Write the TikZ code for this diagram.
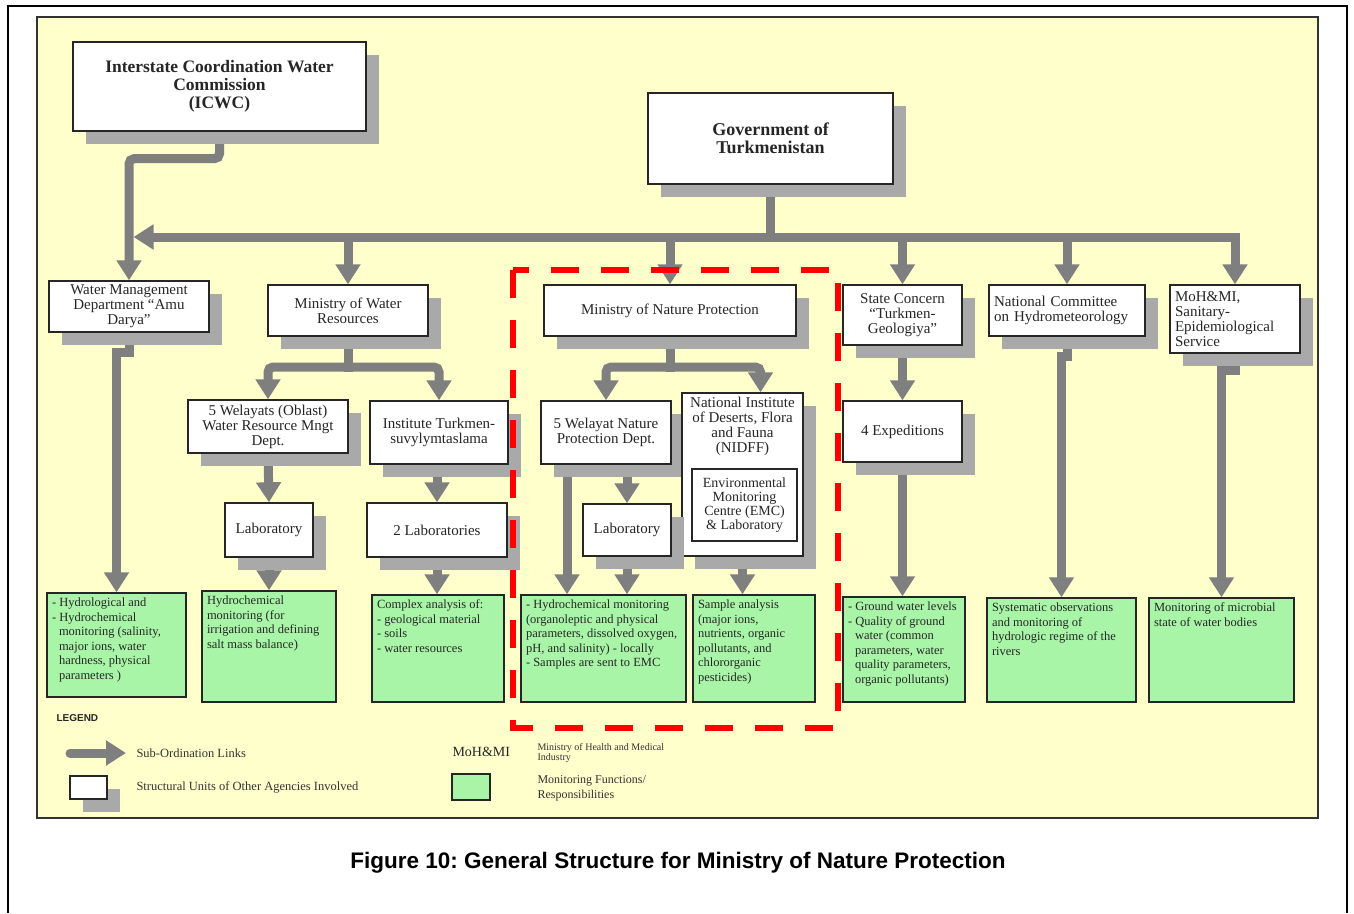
\documentclass[tikz,border=0pt]{standalone}
\usepackage{fontspec}
\setmainfont{Liberation Serif}
\setsansfont{Liberation Sans}
\frenchspacing
\usetikzlibrary{arrows.meta,positioning,calc,shadows}
\definecolor{paper}{HTML}{FFFFCC}
\definecolor{linkgray}{HTML}{7F7F7F}
\definecolor{shade}{HTML}{A9A9A9}
\definecolor{mongreen}{HTML}{A8F5A8}
\definecolor{dashred}{HTML}{FF0000}
\pgfdeclarelayer{paperlayer}
\pgfdeclarelayer{linklayer}
\pgfsetlayers{paperlayer,linklayer,main}
\tikzset{
  unitplain/.style={draw=black!85,line width=1.4pt,fill=white,align=center,inner sep=2pt,
    text=black!85,font=\fontsize{15}{15}\selectfont},
  unit/.style={unitplain,drop shadow={shadow xshift=13pt,shadow yshift=-13pt,fill=shade,opacity=1}},
  mon/.style={draw=black!85,line width=1.4pt,fill=mongreen,inner sep=5pt,text=black!85,
    font=\fontsize{12.5}{14.5}\selectfont},
  link/.style={draw=linkgray,line width=9pt,line cap=rect,rounded corners=5pt},
  sublink/.style={link,-{Triangle[width=24pt,length=20pt]}},
  legtext/.style={anchor=west,text=black!80,font=\fontsize{12.5}{14}\selectfont},
}

\begin{document}
\begin{tikzpicture}[x=1pt,y=-1pt]
  \useasboundingbox (0,0) rectangle (1354,913);
  \begin{pgfonlayer}{paperlayer}
    \draw[line width=2pt] (8,913) -- (8,6) -- (1347,6) -- (1347,913);
    \draw[draw=black!80,line width=2pt,fill=paper] (37,17) rectangle (1318,818);
  \end{pgfonlayer}

  % top level
  \node[unit,minimum width=293pt,minimum height=89pt,font=\bfseries\fontsize{17.5}{18}\selectfont] (icwc) at (219.5,86.5) {Interstate Coordination Water\\Commission\\(ICWC)};
  \node[unit,minimum width=245pt,minimum height=91pt,font=\bfseries\fontsize{18}{18}\selectfont] (gov) at (770.5,138.5) {Government of\\Turkmenistan};

  % agencies
  \node[unit,minimum width=160pt,minimum height=51pt] (wmd) at (129,306.5) {Water Management\\Department “Amu\\Darya”};
  \node[unit,minimum width=160pt,minimum height=51pt] (mowr) at (348,310.5) {Ministry of Water\\Resources};
  \node[unit,minimum width=252pt,minimum height=51pt] (mnp) at (670,310.5) {Ministry of Nature Protection};
  \node[unit,minimum width=119pt,minimum height=60pt] (gc) at (902.5,315) {State Concern\\“Turkmen-\\Geologiya”};
  \node[unit,minimum width=156pt,minimum height=51pt,align=left,text width=146pt] (ncm) at (1067,310.5) {National Committee\\on Hydrometeorology};
  \node[unit,minimum width=130pt,minimum height=68pt,align=left,text width=120pt] (moh) at (1235,319) {MoH\&MI,\\Sanitary-\\Epidemiological\\Service};

  % subunits
  \node[unit,minimum width=160pt,minimum height=53pt] (wel) at (268,426.5) {5 Welayats (Oblast)\\Water Resource Mngt\\Dept.};
  \node[unit,minimum width=138pt,minimum height=63pt] (inst) at (439,432.5) {Institute Turkmen-\\suvylymtaslama};
  \node[unit,minimum width=130pt,minimum height=63pt] (wnp) at (606,432.5) {5 Welayat Nature\\Protection Dept.};
  \node[unit,minimum width=121pt,minimum height=163pt] (nidff) at (742.5,474.5) {\parbox[c][155pt][t]{117pt}{\centering National Institute\\of Deserts, Flora\\and Fauna\\(NIDFF)}};
  \node[unitplain,minimum width=105pt,minimum height=72pt,font=\fontsize{14}{14}\selectfont] (emc) at (744.5,505) {Environmental\\Monitoring\\Centre (EMC)\\\& Laboratory};
  \node[unit,minimum width=119pt,minimum height=61pt] (exp) at (902.5,431.5) {4 Expeditions};
  \node[unit,minimum width=88pt,minimum height=54pt] (lab1) at (269,530) {Laboratory};
  \node[unit,minimum width=140pt,minimum height=54pt] (labs2) at (437,530) {2 Laboratories};
  \node[unit,minimum width=88pt,minimum height=52pt] (lab3) at (627,530) {Laboratory};

  % monitoring functions
  \node[mon] (mon1) at (116.5,645) {\parbox[c][94pt][t]{129pt}{\raggedright - Hydrological and\\- Hydrochemical\\\hspace*{7pt}monitoring (salinity,\\\hspace*{7pt}major ions, water\\\hspace*{7pt}hardness, physical\\\hspace*{7pt}parameters )}};
  \node[mon] (mon2) at (269,646.5) {\parbox[c][101pt][t]{124pt}{\raggedright Hydrochemical\\monitoring (for\\irrigation and defining\\salt mass balance)}};
  \node[mon] (mon3) at (438,648.5) {\parbox[c][97pt][t]{122pt}{\raggedright Complex analysis of:\\- geological material\\- soils\\- water resources}};
  \node[mon] (mon4) at (603.5,648.5) {\parbox[c][97pt][t]{155pt}{\raggedright - Hydrochemical monitoring\\(organoleptic and physical\\parameters, dissolved oxygen,\\pH, and salinity) - locally\\- Samples are sent to EMC}};
  \node[mon] (mon5) at (754,648.5) {\parbox[c][97pt][t]{112pt}{\raggedright Sample analysis\\(major ions,\\nutrients, organic\\pollutants,  and\\chlororganic\\pesticides)}};
  \node[mon] (mon6) at (904,649.5) {\parbox[c][95pt][t]{112pt}{\raggedright - Ground water levels\\- Quality of ground\\\hspace*{7pt}water (common\\\hspace*{7pt}parameters, water\\\hspace*{7pt}quality parameters,\\\hspace*{7pt}organic pollutants)}};
  \node[mon] (mon7) at (1061.5,650) {\parbox[c][94pt][t]{139pt}{\raggedright Systematic observations\\and monitoring of\\hydrologic regime of the\\rivers}};
  \node[mon] (mon8) at (1221.5,650) {\parbox[c][94pt][t]{135pt}{\raggedright Monitoring of microbial\\state of water bodies}};

  % links
  \coordinate (bus) at (770.5,237);
  \coordinate (wrj) at (348,367);
  \coordinate (npj) at (670,367);
  \begin{pgfonlayer}{linklayer}
    \draw[link] (gov.south) -- (bus);
    \draw[sublink,shorten >=4.5pt] (bus -| moh.north) -- (bus -| wmd.north);
    \foreach \n in {mowr,mnp,gc,ncm,moh}
      \draw[sublink] (bus -| \n.north) -- (\n.north);
    \draw[sublink] (icwc.south) -- ++(0,27) -| (wmd.north);
    \draw[sublink,sharp corners] (wmd.south) -- ++(0,20) -| (mon1.north);
    \draw[link] (mowr.south) -- (wrj);
    \draw[sublink] (wrj) -| (wel.north);
    \draw[sublink] (wrj) -| (inst.north);
    \draw[sublink] (wel.south) -- (lab1.north);
    \draw[sublink] (lab1.south) -- (mon2.north);
    \draw[sublink] (inst.south -| labs2.north) -- (labs2.north);
    \draw[sublink] (labs2.south) -- (labs2.south |- mon3.north);
    \draw[link] (mnp.south) -- (npj);
    \draw[sublink] (npj) -| (wnp.north);
    \draw[sublink] (npj) -| ([xshift=18pt]nidff.north);
    \draw[sublink] (wnp.south -| lab3.north) -- (lab3.north);
    \draw[sublink] ([xshift=-39pt]wnp.south) -- ([xshift=-39pt]wnp.south |- mon4.north);
    \draw[sublink] (lab3.south) -- (lab3.south |- mon4.north);
    \draw[sublink] (nidff.south) -- (nidff.south |- mon5.north);
    \draw[sublink] (gc.south) -- (exp.north);
    \draw[sublink] (exp.south) -- (exp.south |- mon6.north);
    \draw[sublink,sharp corners] (ncm.south) -- ++(0,20) -| (mon7.north);
    \draw[sublink,sharp corners] (moh.south) -- ++(0,17) -| (mon8.north);
  \end{pgfonlayer}

  % ministry of nature protection frame
  \draw[dashred,line width=5.5pt,dash pattern=on 28pt off 22pt] (513,270) rectangle (838,728);

  % legend
  \node[anchor=west,text=black!85,font=\sffamily\bfseries\fontsize{10}{12}\selectfont] (legend) at (53,718) {LEGEND};
  \coordinate (lgtail) at (70,753);
  \coordinate (lghead) at (126,753);
  \draw[sublink,line cap=round] (lgtail) -- (lghead);
  \node[legtext] (lglinks) at (133,753) {Sub-Ordination Links};
  \node[unit,minimum width=37pt,minimum height=23pt] (lgunit) at (88.5,787.5) {};
  \node[legtext] (lgunits) at (133,787) {Structural Units of Other Agencies Involved};
  \node[anchor=west,text=black!85,font=\fontsize{14}{14}\selectfont] (lgmoh) at (449,752) {MoH\&MI};
  \node[legtext,align=left,font=\fontsize{10}{10}\selectfont] (lgmohtxt) at (534,753) {Ministry of Health and Medical\\Industry};
  \node[mon,minimum width=38pt,minimum height=26pt] (lgmon) at (471,787) {};
  \node[legtext,align=left,font=\fontsize{12}{15}\selectfont] (lgmontxt) at (534,788) {Monitoring Functions/\\Responsibilities};

  \node[font=\sffamily\bfseries\fontsize{22.5}{26}\selectfont] (caption) at (678,863) {Figure 10: General Structure for Ministry of Nature Protection};
\end{tikzpicture}
\end{document}
